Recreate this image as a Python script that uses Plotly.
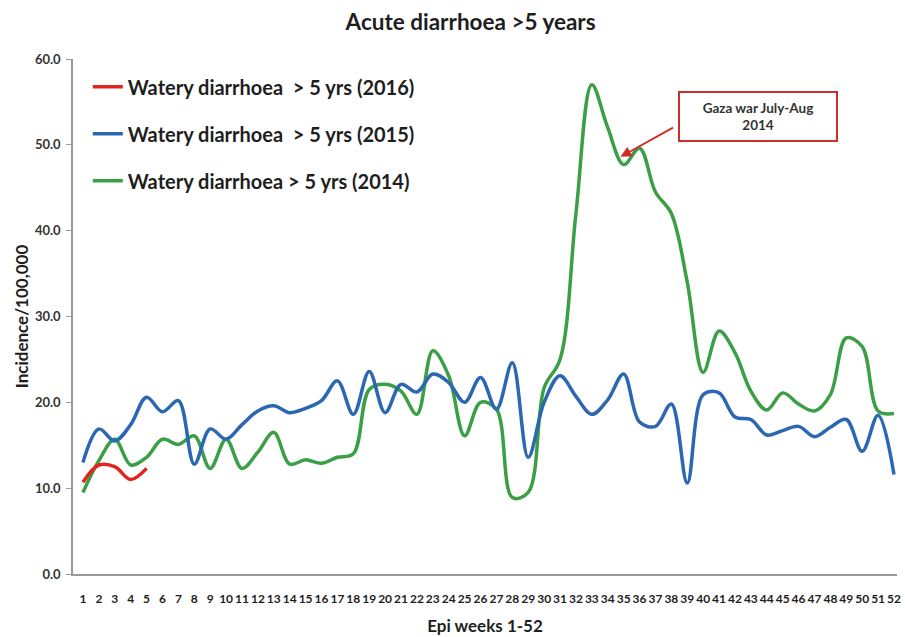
import plotly.graph_objects as go

weeks = list(range(1, 53))
week_labels = [str(w) for w in weeks]

series_2016 = [10.7, 12.7, 12.5, 11.0, 12.3]

series_2015 = [13.0, 16.9, 15.5, 17.4, 20.6, 18.9, 20.2, 12.8, 16.9, 15.7,
               17.4, 19.0, 19.6, 18.8, 19.3, 20.2, 22.5, 18.6, 23.6, 18.8,
               22.1, 21.2, 23.3, 22.3, 20.0, 22.9, 19.2, 24.6, 13.6, 20.0,
               23.1, 20.7, 18.6, 20.3, 23.3, 17.7, 17.2, 19.8, 10.6, 20.9,
               21.1, 18.3, 18.0, 16.2, 16.7, 17.2, 16.0, 17.1, 18.0, 14.3,
               18.5, 11.6]

series_2014 = [9.5, 13.2, 15.7, 12.7, 13.6, 15.7, 15.1, 16.1, 12.3, 15.7,
               12.3, 14.2, 16.5, 12.8, 13.3, 12.9, 13.6, 14.0, 21.5, 22.1,
               21.3, 18.6, 26.0, 23.1, 16.1, 20.0, 19.2, 8.9, 9.5, 21.7,
               25.0, 42.0, 57.0, 52.0, 47.7, 49.6, 44.5, 42.0, 34.0, 23.5,
               28.3, 25.8, 21.3, 19.1, 21.1, 19.8, 19.0, 20.9, 27.5, 26.5,
               19.0, 18.7]

names = ["Watery diarrhoea  > 5 yrs (2016)",
         "Watery diarrhoea  > 5 yrs (2015)",
         "Watery diarrhoea > 5 yrs (2014)"]
colors = ["#e3231f", "#2c67b1", "#3a9f45"]

y_ticks = [0, 10, 20, 30, 40, 50, 60]

FONT = "Lato"
TXT = "#1e1e1e"

fig = go.Figure()
data = [(series_2014, names[2], colors[2], "g3", 3),
        (series_2015, names[1], colors[1], "g2", 2),
        (series_2016, names[0], colors[0], "g1", 1)]
for vals, nm, col, grp, rank in data:
    fig.add_trace(go.Scatter(
        x=weeks[:len(vals)], y=vals, mode="lines", name=f"<b>{nm}</b>",
        legendgroup=grp, legendrank=rank,
        line=dict(color=col, width=3.5, shape="spline", smoothing=1.0),
    ))

fig.update_layout(
    width=905, height=637,
    margin=dict(l=73, r=4, t=59, b=62),
    paper_bgcolor="white", plot_bgcolor="white",
    font=dict(family=FONT, color=TXT),
    title=dict(text="<b>Acute diarrhoea >5 years</b>", x=0.52, xref="container",
               xanchor="center", y=0.966, yref="container", yanchor="middle",
               font=dict(size=22.5, family=FONT, color=TXT)),
    legend=dict(x=0.018, y=0.984, xanchor="left", yanchor="top",
                traceorder="grouped", tracegroupgap=18,
                font=dict(size=20, family=FONT, color=TXT),
                bgcolor="rgba(0,0,0,0)", itemwidth=30),
    showlegend=True,
)

fig.update_xaxes(
    range=[0.374, 52.19], tickmode="array", tickvals=weeks,
    ticktext=[f"<b>{t}</b>" for t in week_labels], tickangle=0,
    ticklabeloverflow="allow",
    tickfont=dict(size=12, family=FONT, color=TXT),
    showgrid=False, zeroline=False, showline=True, linecolor="#9a9a9a", linewidth=1.5,
    ticks="", ticklabelstandoff=13,
    title=dict(text="<b>Epi weeks 1-52</b>", font=dict(size=17, family=FONT, color=TXT), standoff=15),
)
fig.update_yaxes(
    range=[0, 60], tickmode="array", tickvals=y_ticks,
    ticktext=[f"<b>{v:.1f}</b>" for v in y_ticks],
    tickfont=dict(size=13, family=FONT, color="#333"),
    showgrid=False, zeroline=False, showline=True, linecolor="#9a9a9a", linewidth=1.5,
    ticks="outside", ticklen=5, tickcolor="#9a9a9a", ticklabelstandoff=3,
    title=dict(text="<b>Incidence/100,000</b>", font=dict(size=17, family=FONT, color=TXT), standoff=2),
)

# Annotation box
fig.add_annotation(
    x=43.42, y=53.3, xref="x", yref="y",
    text="<b>Gaza war July-Aug<br>2014</b>", showarrow=False,
    font=dict(size=13.5, family=FONT, color="#333"),
    bordercolor="#c9302c", borderwidth=2, borderpad=1, bgcolor="white",
    width=154, height=45, align="center",
)
# Arrow
fig.add_annotation(
    x=34.8, y=48.6, xref="x", yref="y",
    ax=38.2, ay=52.1, axref="x", ayref="y",
    text="", showarrow=True, arrowhead=2, arrowsize=1.2, arrowwidth=1.8,
    arrowcolor="#d42a26",
)

fig.write_html(
    "out.html",
    config={"displayModeBar": False},
    post_script="document.body.style.margin='0';document.body.style.overflow='hidden';",
)
